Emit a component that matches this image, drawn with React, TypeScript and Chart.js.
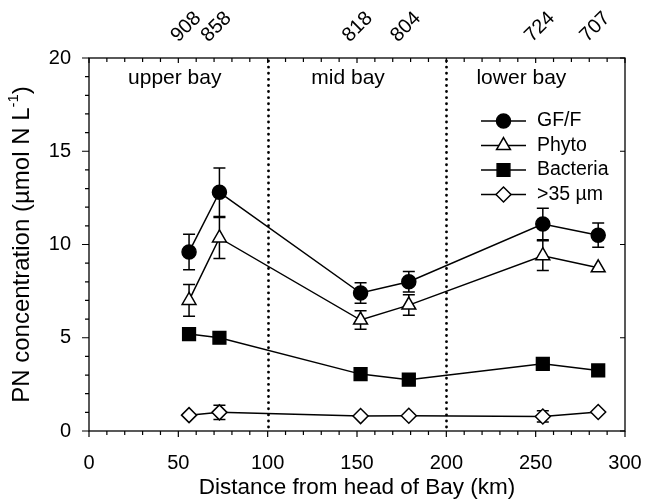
import React, { useEffect, useRef } from 'react';
import { Chart, registerables } from 'chart.js';
import { drawPoint } from 'chart.js/helpers';

Chart.register(...registerables);

// ---- data ----
const distanceKm = [56, 73, 152, 179, 254, 285];
const stationLabels = ['908', '858', '818', '804', '724', '707'];
const gffValues = [9.6, 12.8, 7.4, 8.0, 11.1, 10.5];
const gffErrors = [0.95, 1.3, 0.55, 0.55, 0.85, 0.65];
const phytoValues = [7.0, 10.35, 5.95, 6.75, 9.4, 8.75];
const phytoErrors = [0.85, 1.1, 0.5, 0.55, 0.8, 0];
const bacteriaValues = [5.2, 5.0, 3.05, 2.75, 3.6, 3.25];
const bacteriaErrors = [0, 0, 0, 0, 0, 0];
const largeValues = [0.85, 1.0, 0.8, 0.82, 0.78, 1.02];
const largeErrors = [0, 0.38, 0, 0, 0.3, 0];
const seriesNames = ['GF/F', 'Phyto', 'Bacteria', '>35 µm'];
const regionNames = ['upper bay', 'mid bay', 'lower bay'];
const regionCentersKm = [48, 145, 242];
const regionBoundariesKm = [100, 200];
const xTitle = 'Distance from head of Bay (km)';
const yTitleMain = 'PN concentration (µmol N L';
const yTitleSup = '-1';
const yTitleEnd = ')';

const FONT = "'Liberation Sans', Arial, sans-serif";

const seriesStyles = [
  { pointStyle: 'circle', radius: 7, fill: '#000' },
  { pointStyle: 'triangle', radius: 8, fill: '#fff' },
  { pointStyle: 'rect', radius: 9, fill: '#000' },
  { pointStyle: 'rectRot', radius: 7.5, fill: '#fff' },
];
const seriesValues = [gffValues, phytoValues, bacteriaValues, largeValues];
const seriesErrors = [gffErrors, phytoErrors, bacteriaErrors, largeErrors];

const decorPlugin = {
  id: 'decor',
  beforeDatasetsDraw(chart: any) {
    const { ctx, chartArea: a, scales } = chart;
    const x = scales.x;
    const y = scales.y;
    ctx.save();
    // dotted region boundaries
    ctx.strokeStyle = '#000';
    ctx.lineWidth = 2.8;
    ctx.lineCap = 'round';
    ctx.setLineDash([0.1, 6]);
    regionBoundariesKm.forEach((b) => {
      const px = Math.round(x.getPixelForValue(b)) + 0.5;
      ctx.beginPath();
      ctx.moveTo(px, a.top + 3);
      ctx.lineTo(px, a.bottom);
      ctx.stroke();
    });
    ctx.setLineDash([]);
    ctx.lineCap = 'butt';
    // error bars
    ctx.lineWidth = 1.5;
    seriesValues.forEach((vals, s) => {
      const errs = seriesErrors[s];
      vals.forEach((v, i) => {
        const e = errs[i];
        if (!e) return;
        const px = x.getPixelForValue(distanceKm[i]);
        const yt = y.getPixelForValue(v + e);
        const yb = y.getPixelForValue(v - e);
        ctx.beginPath();
        ctx.moveTo(px, yt);
        ctx.lineTo(px, yb);
        ctx.moveTo(px - 6, yt);
        ctx.lineTo(px + 6, yt);
        ctx.moveTo(px - 6, yb);
        ctx.lineTo(px + 6, yb);
        ctx.stroke();
      });
    });
    ctx.restore();
  },
  afterDraw(chart: any) {
    const { ctx, chartArea: a, scales } = chart;
    const x = scales.x;
    const y = scales.y;
    ctx.save();
    ctx.strokeStyle = '#000';
    ctx.fillStyle = '#000';
    ctx.lineWidth = 1.3;
    // frame
    ctx.strokeRect(a.left, a.top, a.right - a.left, a.bottom - a.top);
    ctx.lineWidth = 1.2;
    ctx.beginPath();
    for (let v = 0; v <= 300; v += 10) {
      const px = x.getPixelForValue(v);
      const major = v % 50 === 0;
      ctx.moveTo(px, a.bottom);
      ctx.lineTo(px, a.bottom + (major ? 6 : 4));
      ctx.moveTo(px, a.top);
      ctx.lineTo(px, a.top + (major ? 5 : 4));
    }
    for (let v = 0; v <= 20; v += 1) {
      const py = y.getPixelForValue(v);
      const major = v % 5 === 0;
      ctx.moveTo(a.left, py);
      ctx.lineTo(a.left - (major ? 7 : 4), py);
      if (major) {
        ctx.moveTo(a.right, py);
        ctx.lineTo(a.right - 5, py);
      }
    }
    ctx.stroke();

    // region labels
    ctx.font = `21px ${FONT}`;
    ctx.textAlign = 'center';
    ctx.textBaseline = 'middle';
    regionNames.forEach((n, i) => {
      ctx.fillText(n, x.getPixelForValue(regionCentersKm[i]), a.top + 20);
    });

    // station labels on top, rotated
    ctx.font = `20px ${FONT}`;
    stationLabels.forEach((lab, i) => {
      const px = x.getPixelForValue(distanceKm[i]);
      ctx.save();
      ctx.translate(px - 3, a.top - 31);
      ctx.rotate(-Math.PI / 4);
      ctx.textAlign = 'center';
      ctx.textBaseline = 'middle';
      ctx.fillText(lab, 0, 0);
      ctx.restore();
    });

    // legend
    const lx0 = a.left + 392;
    seriesNames.forEach((name, i) => {
      const ly = a.top + 63 + i * 24.5;
      ctx.lineWidth = 1.5;
      ctx.strokeStyle = '#000';
      ctx.beginPath();
      ctx.moveTo(lx0, ly);
      ctx.lineTo(lx0 + 45, ly);
      ctx.stroke();
      const st = seriesStyles[i];
      ctx.fillStyle = st.fill;
      drawPoint(ctx, { pointStyle: st.pointStyle, radius: st.radius, rotation: 0, borderWidth: 1.5 } as any, lx0 + 22.5, ly);
      ctx.fillStyle = '#000';
      ctx.font = `19.5px ${FONT}`;
      ctx.textAlign = 'left';
      ctx.textBaseline = 'middle';
      ctx.fillText(name, lx0 + 56, ly);
    });

    // y axis title with superscript
    const mainFont = `24px ${FONT}`;
    const supFont = `15px ${FONT}`;
    ctx.font = mainFont;
    const w1 = ctx.measureText(yTitleMain).width;
    const w3 = ctx.measureText(yTitleEnd).width;
    ctx.font = supFont;
    const w2 = ctx.measureText(yTitleSup).width;
    const total = w1 + w2 + w3;
    ctx.save();
    ctx.translate(22, (a.top + a.bottom) / 2);
    ctx.rotate(-Math.PI / 2);
    ctx.textAlign = 'left';
    ctx.textBaseline = 'middle';
    let cx = -total / 2;
    ctx.font = mainFont;
    ctx.fillText(yTitleMain, cx, 0);
    cx += w1;
    ctx.font = supFont;
    ctx.fillText(yTitleSup, cx, -8);
    cx += w2;
    ctx.font = mainFont;
    ctx.fillText(yTitleEnd, cx, 0);
    ctx.restore();

    ctx.restore();
  },
};

export default function App() {
  const ref = useRef<HTMLCanvasElement>(null);
  useEffect(() => {
    if (!ref.current) return;
    const datasets = seriesNames.map((name, s) => ({
      label: name,
      data: distanceKm.map((d, i) => ({ x: d, y: seriesValues[s][i] })),
      showLine: true,
      borderColor: '#000',
      borderWidth: 1.5,
      pointStyle: seriesStyles[s].pointStyle,
      pointRadius: seriesStyles[s].radius,
      pointHoverRadius: seriesStyles[s].radius,
      pointBackgroundColor: seriesStyles[s].fill,
      pointBorderColor: '#000',
      pointBorderWidth: 1.5,
      tension: 0,
      fill: false,
    }));
    const chart = new Chart(ref.current, {
      type: 'scatter',
      data: { datasets },
      options: {
        responsive: false,
        animation: false,
        devicePixelRatio: 1,
        layout: { padding: { top: 58, right: 21, left: 0, bottom: 0 } },
        plugins: { legend: { display: false }, tooltip: { enabled: false } },
        scales: {
          x: {
            type: 'linear',
            min: 0,
            max: 300,
            afterFit: (s: any) => {
              s.height = 70;
              s.paddingLeft = 0;
              s.paddingRight = 0;
            },
            ticks: { stepSize: 50, color: '#000', font: { family: FONT, size: 20 }, padding: 20, maxRotation: 0 },
            grid: { display: false, drawTicks: false },
            border: { display: false },
            title: { display: true, text: xTitle, color: '#000', font: { family: FONT, size: 22.5 }, padding: 0 },
          },
          y: {
            type: 'linear',
            min: 0,
            max: 20,
            afterFit: (s: any) => {
              s.width = 89;
              s.paddingTop = 0;
              s.paddingBottom = 0;
            },
            ticks: { stepSize: 5, color: '#000', font: { family: FONT, size: 20 }, padding: 18 },
            grid: { display: false, drawTicks: false },
            border: { display: false },
          },
        },
      },
      plugins: [decorPlugin],
    } as any);
    return () => chart.destroy();
  }, []);
  return (
    <div style={{ position: 'fixed', left: 0, top: 0, width: 646, height: 501, background: '#fff' }}>
      <canvas ref={ref} width={646} height={501} />
    </div>
  );
}
